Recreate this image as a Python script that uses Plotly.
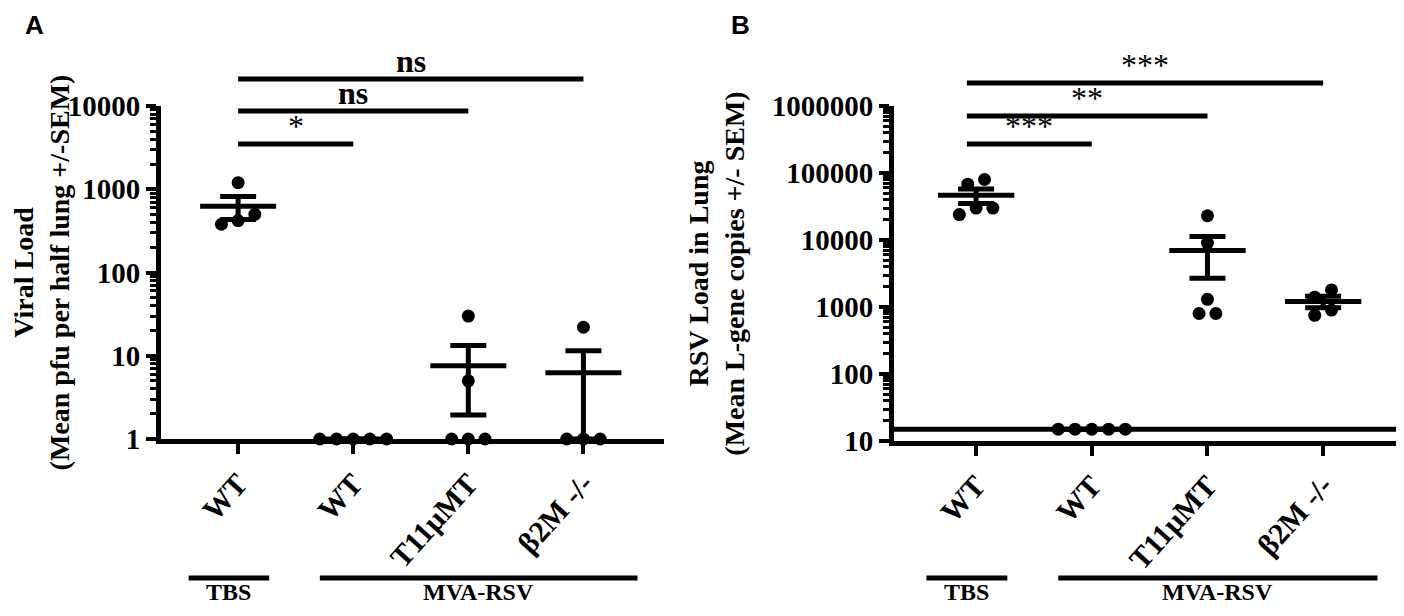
import numpy as np
import plotly.graph_objects as go

categories = ["WT", "WT", "T11\u03bcMT", "\u03b22M -/-"]
groups = ["TBS", "MVA-RSV"]

# panel A - viral load, pfu per half lung
a_tbs_wt = [1200, 380, 500, 420]
a_mva_wt = [1, 1, 1, 1, 1]
a_mva_t11 = [30, 5, 1, 1, 1]
a_mva_b2m = [22, 1, 1, 1]
a_sig = ["*", "ns", "ns"]

# panel B - RSV L-gene copies
b_tbs_wt = [80000, 68000, 24000, 30000, 30000]
b_mva_wt = [15, 15, 15, 15, 15]
b_mva_t11 = [23000, 9000, 1300, 800, 800]
b_mva_b2m = [1800, 1400, 750, 900]
b_sig = ["***", "**", "***"]
b_lod = 15

SERIF = "Liberation Serif"
# page has an 8px body margin, so the figure is drawn 16px smaller
W, H, OFF = 1388, 600, 8


def px(p):
    return (p - OFF) / W


def py(p):
    return 1 - (p - OFF) / H


fig = go.Figure()


def spread(vals, gap, step=0.145):
    # simple beeswarm: points closer than `gap` decades sit side by side
    v = np.log10(vals)
    order = np.argsort(v, kind="stable")
    off = np.zeros(len(v))
    clusters, cur = [], [order[0]]
    for i in order[1:]:
        if v[i] - v[cur[-1]] < gap:
            cur.append(i)
        else:
            clusters.append(cur)
            cur = [i]
    clusters.append(cur)
    for c in clusters:
        for k, i in enumerate(c):
            off[i] = (k - (len(c) - 1) / 2) * step
    return off


def add_panel(series, xa, ya, gap):
    for i, vals in enumerate(series):
        vals = np.array(vals, dtype=float)
        off = spread(vals, gap)
        fig.add_trace(go.Scatter(
            x=i + off, y=vals, mode="markers", xaxis=xa, yaxis=ya,
            marker=dict(color="black", size=13), cliponaxis=False,
            showlegend=False, hoverinfo="y"))
        m = vals.mean()
        sem = vals.std(ddof=1) / np.sqrt(len(vals))
        fig.add_trace(go.Scatter(
            x=[i], y=[m], mode="markers", xaxis=xa, yaxis=ya,
            marker=dict(color="black", size=1, opacity=0),
            error_x=dict(type="data", array=[0.33], width=0, thickness=5, color="black"),
            error_y=dict(type="data", array=[sem], width=18, thickness=5, color="black"),
            showlegend=False, hoverinfo="skip"))


add_panel([a_tbs_wt, a_mva_wt, a_mva_t11, a_mva_b2m], "x", "y", 0.15)
add_panel([b_tbs_wt, b_mva_wt, b_mva_t11, b_mva_b2m], "x2", "y2", 0.18)

# limit of detection line in B
fig.add_trace(go.Scatter(
    x=[-0.71, 3.63], y=[b_lod, b_lod], mode="lines", xaxis="x2", yaxis="y2",
    line=dict(color="black", width=5), showlegend=False, hoverinfo="skip"))


def minor_vals(lo, hi):
    return [m * 10 ** k for k in range(lo, hi) for m in range(2, 10)]


def xax(domain, rng, anchor):
    return dict(domain=domain, range=rng, anchor=anchor, automargin=False,
                tickmode="array", tickvals=[0, 1, 2, 3], ticktext=categories,
                tickangle=-48, ticks="outside", ticklen=10, tickwidth=4,
                tickcolor="black", showline=True, linewidth=5, linecolor="black",
                showgrid=False, zeroline=False,
                tickfont=dict(family=SERIF, size=30, color="black", weight="bold"))


def yax(domain, lo, hi, title, anchor, standoff):
    tv = [10 ** k for k in range(lo, hi + 1)]
    return dict(domain=domain, type="log", range=[lo, hi], anchor=anchor,
                automargin=False, tickmode="array", tickvals=tv,
                ticktext=[str(t) for t in tv], ticks="outside", ticklen=10,
                tickwidth=4, tickcolor="black", showline=True, linewidth=5,
                linecolor="black", showgrid=False, zeroline=False,
                minor=dict(tickmode="array", tickvals=minor_vals(lo, hi), ticks="outside",
                           ticklen=6, tickwidth=3, tickcolor="black", showgrid=False),
                tickfont=dict(family=SERIF, size=29, color="black", weight="bold"),
                title=dict(text=title, standoff=standoff,
                           font=dict(family=SERIF, size=28, color="black", weight="bold")))


fig.update_layout(
    width=W, height=H, autosize=False, margin=dict(l=0, r=0, t=0, b=0, pad=0),
    plot_bgcolor="white", paper_bgcolor="white",
    xaxis=xax([px(161), px(664)], [-0.67, 3.70], "y"),
    yaxis=yax([py(439), py(106)], 0, 4,
              "Viral Load<br>(Mean pfu per half lung +/-SEM)", "x", 8),
    xaxis2=xax([px(894), 1.0], [-0.71, 3.63], "y2"),
    yaxis2=yax([py(441), py(106)], 1, 6,
               "RSV Load in Lung<br>(Mean L-gene copies +/- SEM)", "x2", 20),
)

shapes, annos = [], []
# significance bars
for xr, labels, bar_y, x0 in [("x", a_sig, [144, 111, 79], 0.0),
                              ("x2", b_sig, [144, 116, 83], -0.08)]:
    for j, (lab, yy) in enumerate(zip(labels, bar_y)):
        x1 = j + 1
        shapes.append(dict(type="line", xref=xr, yref="paper", x0=x0, x1=x1,
                           y0=py(yy), y1=py(yy), line=dict(color="black", width=5)))
        bold = "bold" if lab == "ns" else "normal"
        annos.append(dict(xref=xr, yref="paper", x=(x0 + x1) / 2, y=py(yy),
                          text=lab, showarrow=False, yanchor="bottom", yshift=-2,
                          font=dict(family=SERIF, size=32, color="black", weight=bold)))

# treatment groups under the axes
group_span = [(-0.43, 0.27), (0.71, 3.47)]
for xr in ["x", "x2"]:
    for name, (g0, g1) in zip(groups, group_span):
        shapes.append(dict(type="line", xref=xr, yref="paper", x0=g0, x1=g1,
                           y0=py(578), y1=py(578), line=dict(color="black", width=5)))
        annos.append(dict(xref=xr, yref="paper", x=(g0 + g1) / 2, y=py(607),
                          text=name, showarrow=False, yanchor="bottom",
                          font=dict(family=SERIF, size=24, color="black", weight="bold")))

for lab, xx in [("A", 34), ("B", 740)]:
    annos.append(dict(xref="paper", yref="paper", x=px(xx), y=1.0, text=lab,
                      showarrow=False, xanchor="center", yanchor="top",
                      font=dict(family="Liberation Sans", size=26, color="black",
                                weight="bold")))

fig.update_layout(shapes=shapes, annotations=annos)
fig.write_html("out.html")
